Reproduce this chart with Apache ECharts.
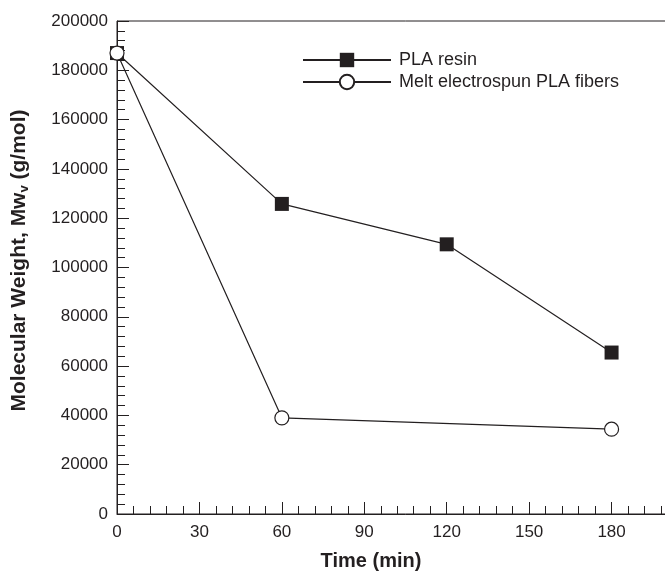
<!DOCTYPE html>
<html>
<head>
<meta charset="utf-8">
<script src="https://cdn.jsdelivr.net/npm/echarts@6/dist/echarts.min.js"></script>
<style>
  html, body { margin: 0; padding: 0; background: #fff; overflow: hidden; }
  #chart { width: 700px; height: 576px; }
</style>
</head>
<body>
<div id="chart"></div>
<script>
// Viscosity-average molecular weight versus degradation time
const resinTime = [0, 60, 120, 180];
const resinMw = [187000, 125800, 109400, 65500];
const fiberTime = [0, 60, 180];
const fiberMw = [187000, 39000, 34400];
const seriesNames = ['PLA resin', 'Melt electrospun PLA fibers'];

const ink = '#231f20';
const font = 'Liberation Sans, Arial, Helvetica, sans-serif';

const chart = echarts.init(document.getElementById('chart'), null, { renderer: 'canvas' });

chart.setOption({
  backgroundColor: '#fff',
  animation: false,
  // the canvas is wider than the window, so the right side of the plot box is cut off
  grid: { left: 117, top: 21, width: 577, height: 498, show: true, borderColor: ink, borderWidth: 1, containLabel: false },
  legend: {
    orient: 'vertical',
    left: 297,
    top: 46,
    itemWidth: 88,
    itemHeight: 18,
    itemGap: 4,
    textStyle: { fontFamily: font, fontSize: 18, color: ink, padding: [0, 0, 0, 3] },
    data: seriesNames
  },
  xAxis: {
    type: 'value',
    min: 0,
    max: 210,
    interval: 30,
    name: 'Time (min)',
    nameLocation: 'middle',
    nameGap: 37,
    nameTextStyle: { fontFamily: font, fontSize: 20, fontWeight: 'bold', color: ink, padding: [0, 69, 0, 0] },
    axisLine: { show: true, lineStyle: { color: ink, width: 1 } },
    axisTick: { show: true, inside: true, length: 12, lineStyle: { color: ink } },
    minorTick: { show: true, splitNumber: 5, length: 8, lineStyle: { color: ink } },
    splitLine: { show: false },
    axisLabel: { fontFamily: font, fontSize: 17, color: ink, margin: 10, showMaxLabel: false, formatter: v => String(v) }
  },
  yAxis: {
    type: 'value',
    min: 0,
    max: 200000,
    interval: 20000,
    name: '{b|Molecular Weight, Mw}{s|v}{b| (g/mol)}',
    nameLocation: 'middle',
    nameRotate: 90,
    nameGap: 86,
    nameTextStyle: {
      fontFamily: font, fontSize: 21, fontWeight: 'bold', color: ink, padding: [0, 0, 0, 14],
      rich: {
        b: { fontFamily: font, fontSize: 21, fontWeight: 'bold', color: ink },
        s: { fontFamily: font, fontSize: 13, fontWeight: 'bold', color: ink, verticalAlign: 'bottom', padding: [10, 0, 0, 0] }
      }
    },
    axisLine: { show: true, lineStyle: { color: ink, width: 1 } },
    axisTick: { show: true, inside: true, length: 12, lineStyle: { color: ink } },
    minorTick: { show: true, splitNumber: 5, length: 8, lineStyle: { color: ink } },
    splitLine: { show: false },
    axisLabel: { fontFamily: font, fontSize: 17, color: ink, margin: 9, formatter: v => String(v) }
  },
  series: [
    {
      name: seriesNames[0],
      type: 'line',
      data: resinTime.map((t, i) => [t, resinMw[i]]),
      symbol: 'rect',
      symbolSize: 14,
      showAllSymbol: true,
      lineStyle: { color: ink, width: 1.2 },
      itemStyle: { color: ink, borderColor: ink, borderWidth: 0 },
      z: 3
    },
    {
      name: seriesNames[1],
      type: 'line',
      data: fiberTime.map((t, i) => [t, fiberMw[i]]),
      symbol: 'circle',
      symbolSize: 14,
      showAllSymbol: true,
      lineStyle: { color: ink, width: 1.2 },
      itemStyle: { color: '#fff', borderColor: ink, borderWidth: 1.2 },
      z: 4
    }
  ]
});
</script>
</body>
</html>
